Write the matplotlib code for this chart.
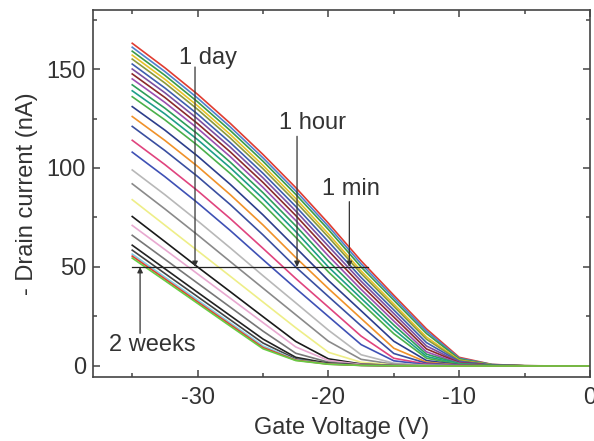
import numpy as np
import matplotlib
matplotlib.use('Agg')
import matplotlib.pyplot as plt
from matplotlib.ticker import MultipleLocator

plt.rcParams['font.family'] = ['Liberation Sans', 'DejaVu Sans']
plt.rcParams['font.size'] = 17
plt.rcParams['axes.unicode_minus'] = False

# gate voltage grid (V)
vg = [-35, -32.5, -30, -27.5, -25, -22.5, -20, -17.5, -15, -12.5, -10, -7.5, -5, -2.5, 0]

# drain current (nA) of each sweep, first (1 min) on top to last (2 weeks) at bottom
curves = [
    [163, 150.6, 137.2, 122.5, 106.8, 90.1, 72.1, 53.1, 35.7, 18.7, 4.37, 0.8, 0.15, 0.03, 0],
    [161, 148.7, 135.3, 120.7, 105.1, 88.4, 70.5, 51.6, 34.5, 17.6, 3.93, 0.73, 0.13, 0.02, 0],
    [159, 146.8, 133.4, 118.9, 103.4, 86.7, 68.9, 50.0, 33.2, 16.4, 3.53, 0.66, 0.12, 0.02, 0],
    [157, 144.8, 131.4, 116.9, 101.3, 84.6, 66.7, 48.0, 31.3, 14.6, 2.98, 0.56, 0.11, 0.02, 0],
    [155, 142.9, 129.6, 115.1, 99.6, 82.9, 65.1, 46.7, 30.1, 13.5, 2.7, 0.51, 0.1, 0.02, 0],
    [152.5, 140.4, 127.2, 112.8, 97.3, 80.6, 62.8, 44.7, 28.3, 11.8, 2.3, 0.44, 0.09, 0.01, 0],
    [150, 138.0, 124.8, 110.5, 95.0, 78.3, 60.5, 42.8, 26.5, 10.1, 1.98, 0.38, 0.08, 0.01, 0],
    [147.5, 135.6, 122.4, 108.1, 92.7, 76.0, 58.2, 40.9, 24.7, 8.61, 1.69, 0.33, 0.07, 0.01, 0],
    [145, 133.1, 120.0, 105.7, 90.2, 73.5, 55.6, 38.7, 22.7, 7.12, 1.42, 0.29, 0.06, 0.01, 0],
    [142, 130.2, 117.2, 102.9, 87.5, 70.8, 53.0, 36.6, 20.7, 5.95, 1.2, 0.24, 0.05, 0.01, 0],
    [139, 127.3, 114.3, 100.1, 84.6, 67.9, 50.0, 34.2, 18.5, 4.82, 0.99, 0.2, 0.04, 0, 0],
    [136, 124.3, 111.4, 97.2, 81.7, 65.0, 47.5, 31.9, 16.3, 3.91, 0.82, 0.17, 0.03, 0, 0],
    [131, 119.1, 106.0, 91.7, 76.3, 59.8, 43.2, 27.9, 12.5, 2.75, 0.59, 0.13, 0.03, 0, 0],
    [126, 113.9, 100.8, 86.5, 71.2, 54.8, 39.1, 24.0, 8.96, 1.96, 0.43, 0.09, 0.02, 0, 0],
    [121, 108.8, 95.7, 81.5, 66.2, 50.0, 35.1, 20.3, 6.31, 1.42, 0.32, 0.07, 0.01, 0, 0],
    [114, 101.7, 88.5, 74.4, 59.4, 44.2, 29.7, 15.1, 3.91, 0.92, 0.21, 0.05, 0.01, 0, 0],
    [108, 95.6, 82.4, 68.4, 53.7, 39.2, 25.0, 10.8, 2.62, 0.63, 0.15, 0.03, 0, 0, 0],
    [99, 86.5, 73.3, 59.6, 45.6, 31.9, 18.1, 5.68, 1.44, 0.36, 0.09, 0.02, 0, 0, 0],
    [92, 79.3, 66.2, 52.7, 39.3, 25.9, 12.5, 3.36, 0.88, 0.23, 0.06, 0.01, 0, 0, 0],
    [84, 71.1, 58.2, 45.3, 32.3, 19.3, 6.91, 1.88, 0.51, 0.14, 0.04, 0.01, 0, 0, 0],
    [75.5, 62.8, 50.0, 37.5, 24.9, 12.4, 3.61, 1.03, 0.29, 0.08, 0.02, 0, 0, 0, 0],
    [71, 58.8, 46.5, 34.2, 21.9, 9.61, 2.79, 0.81, 0.24, 0.07, 0.02, 0, 0, 0, 0],
    [66, 53.9, 41.8, 29.7, 17.6, 6.44, 1.92, 0.57, 0.17, 0.05, 0.01, 0, 0, 0, 0],
    [61, 49.1, 37.2, 25.4, 13.6, 4.38, 1.34, 0.41, 0.12, 0.04, 0.01, 0, 0, 0, 0],
    [58.5, 46.7, 35.0, 23.3, 11.6, 3.64, 1.13, 0.35, 0.11, 0.03, 0.01, 0, 0, 0, 0],
    [56.5, 44.9, 33.3, 21.7, 10.1, 3.17, 0.99, 0.31, 0.1, 0.03, 0, 0, 0, 0, 0],
    [55.5, 44.0, 32.4, 20.9, 9.32, 2.95, 0.93, 0.29, 0.09, 0.03, 0, 0, 0, 0, 0],
    [54.5, 43.1, 31.6, 20.1, 8.69, 2.75, 0.87, 0.28, 0.08, 0.03, 0, 0, 0, 0, 0],
]

colors = ['#e03c31', '#4f81cd', '#3b9b4a', '#e6c229', '#8c9a3a', '#3e5fae', '#7b4fa0',
          '#8b2a2a', '#9b4fb0', '#2e9e5b', '#1f9e89', '#4bb04b', '#2c3e8c', '#f0922a',
          '#3a4fa0', '#e0447e', '#3f51b5', '#b8b8b8', '#8a8a8a', '#eeee88', '#1a1a1a',
          '#e8a8d0', '#777777', '#222222', '#444444', '#7fd0e8', '#e04030', '#66cc44']

# annotation labels: text, text position, arrow x, arrow start y
labels = ['1 day', '1 hour', '1 min']
label_xy = [(-29.2, 155.5), (-21.2, 122.7), (-18.3, 89.4)]
arrow_x = [-30.2, -22.4, -18.4]
arrow_y0 = [151, 116, 83]

fig = plt.figure(figsize=(5.94, 4.41), dpi=100)
ax = fig.add_axes([93/594, 64/441, 497/594, 367/441])

for c, col in zip(curves, colors):
    ax.plot(vg, c, color=col, lw=1.2)

ax.plot([-35, -17], [50, 50], color='#222222', lw=0.9)

for t, xy, ax_x, y0 in zip(labels, label_xy, arrow_x, arrow_y0):
    ax.text(xy[0], xy[1], t, ha='center', va='center', color='#333333')
    ax.annotate('', xy=(ax_x, 50), xytext=(ax_x, y0),
                arrowprops=dict(arrowstyle='-|>', color='#333333', lw=0.9, mutation_scale=8,
                                shrinkA=0, shrinkB=0))

ax.text(-33.5, 10.6, '2 weeks', ha='center', va='center', color='#333333')
ax.annotate('', xy=(-34.4, 50), xytext=(-34.4, 16.5),
            arrowprops=dict(arrowstyle='-|>', color='#333333', lw=0.9, mutation_scale=8,
                            shrinkA=0, shrinkB=0))

ax.set_xlim(-38, 0)
ax.set_ylim(-5.56, 179.8)
ax.xaxis.set_major_locator(MultipleLocator(10))
ax.xaxis.set_minor_locator(MultipleLocator(5))
ax.yaxis.set_major_locator(MultipleLocator(50))
ax.yaxis.set_minor_locator(MultipleLocator(25))
ax.tick_params(which='both', direction='in', top=True, right=True, color='#444444',
               labelcolor='#333333', width=1.1)
ax.tick_params(which='major', length=5)
ax.tick_params(which='minor', length=3)
ax.tick_params(axis='x', pad=7)
ax.tick_params(axis='y', pad=5)
for s in ax.spines.values():
    s.set_color('#444444')
    s.set_linewidth(1.2)

ax.set_xlabel('Gate Voltage (V)', color='#333333', labelpad=6)
ax.set_ylabel('- Drain current (nA)', color='#333333', labelpad=6)

fig.savefig('out.png', dpi=100)
